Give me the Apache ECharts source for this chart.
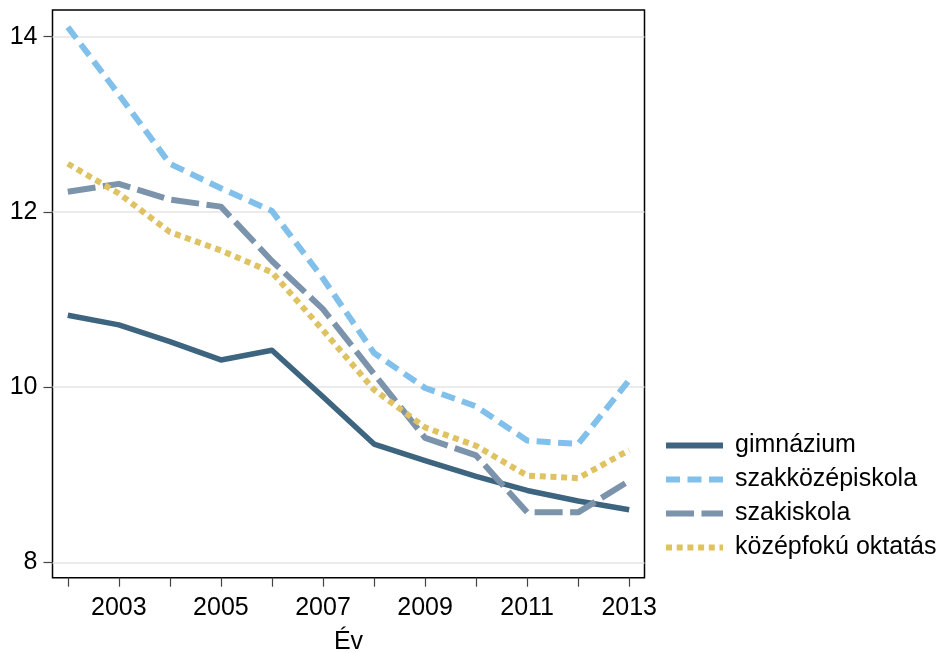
<!DOCTYPE html>
<html>
<head>
<meta charset="utf-8">
<script src="https://cdn.jsdelivr.net/npm/echarts@6/dist/echarts.min.js"></script>
<style>
html,body{margin:0;padding:0;background:#fff;}
#chart{width:938px;height:653px;}
</style>
</head>
<body>
<div id="chart"></div>
<script>
const years = [2002, 2003, 2004, 2005, 2006, 2007, 2008, 2009, 2010, 2011, 2012, 2013];
const gimnazium = [10.82, 10.71, 10.52, 10.31, 10.42, 9.89, 9.35, 9.16, 8.98, 8.82, 8.70, 8.60];
const szakkozep = [14.11, 13.34, 12.55, 12.27, 12.01, 11.24, 10.39, 9.99, 9.78, 9.39, 9.35, 10.08];
const szakiskola = [12.23, 12.32, 12.14, 12.06, 11.44, 10.89, 10.15, 9.42, 9.22, 8.57, 8.57, 8.93];
const kozepfoku = [12.55, 12.21, 11.77, 11.56, 11.31, 10.65, 9.97, 9.54, 9.33, 8.99, 8.96, 9.28];
const xTickValues = [2002, 2003, 2004, 2005, 2006, 2007, 2008, 2009, 2010, 2011, 2012, 2013];
const xLabelValues = [2003, 2005, 2007, 2009, 2011, 2013];
const yTickValues = [8, 10, 12, 14];
const seriesNames = ['gimnázium', 'szakközépiskola', 'szakiskola', 'középfokú oktatás'];

const pairs = arr => years.map((y, i) => [y, arr[i]]);
const font = 'Liberation Sans, Arial, Helvetica, sans-serif';

const chart = echarts.init(document.getElementById('chart'), null, {renderer: 'canvas'});
chart.setOption({
  animation: false,
  backgroundColor: '#fff',
  grid: {
    left: 52.5, top: 10, right: 293.5, bottom: 75.3,
    containLabel: false, outerBoundsMode: 'none',
    show: true, borderColor: '#000', borderWidth: 1.5, backgroundColor: 'transparent'
  },
  legend: {
    orient: 'vertical',
    left: 663, top: 433, padding: 0,
    itemWidth: 57, itemHeight: 14, itemGap: 9,
    itemStyle: {opacity: 0},
    lineStyle: {width: 6, cap: 'butt'},
    textStyle: {fontFamily: font, fontSize: 25, color: '#000', padding: [0, 0, 0, 7]},
    data: seriesNames
  },
  xAxis: {
    type: 'value', min: 2001.7, max: 2013.3,
    name: 'Év', nameLocation: 'middle', nameGap: 52,
    nameTextStyle: {fontFamily: font, fontSize: 25, color: '#000'},
    axisLine: {show: false},
    axisTick: {show: true, length: 9, customValues: xTickValues, lineStyle: {color: '#444', width: 1.2}},
    axisLabel: {customValues: xLabelValues, margin: 18, fontFamily: font, fontSize: 25, color: '#000',
                formatter: v => String(v)},
    splitLine: {show: false}
  },
  yAxis: {
    type: 'value', min: 7.824, max: 14.305,
    axisLine: {show: false},
    axisTick: {show: true, length: 9, customValues: yTickValues, lineStyle: {color: '#444', width: 1.2}},
    axisLabel: {customValues: yTickValues, margin: 15, fontFamily: font, fontSize: 25, color: '#000',
                formatter: v => String(v)},
    splitLine: {show: true, lineStyle: {color: '#e4e4e4', width: 1.5}}
  },
  series: [
    {name: seriesNames[0], type: 'line', data: pairs(gimnazium), symbol: 'none',
     lineStyle: {color: '#3d6580', width: 5.5, cap: 'butt', join: 'round'}, itemStyle: {color: '#3d6580'}},
    {name: seriesNames[1], type: 'line', data: pairs(szakkozep), symbol: 'none',
     lineStyle: {color: '#80c0ea', width: 6, type: [14, 7.5], cap: 'butt', join: 'round'}, itemStyle: {color: '#80c0ea'}},
    {name: seriesNames[2], type: 'line', data: pairs(szakiskola), symbol: 'none',
     lineStyle: {color: '#7b93ab', width: 6, type: [28, 7.5], cap: 'butt', join: 'round'}, itemStyle: {color: '#7b93ab'}},
    {name: seriesNames[3], type: 'line', data: pairs(kozepfoku), symbol: 'none',
     lineStyle: {color: '#dfc262', width: 6, type: [6, 4.7], cap: 'butt', join: 'round'}, itemStyle: {color: '#dfc262'}}
  ]
});
</script>
</body>
</html>
